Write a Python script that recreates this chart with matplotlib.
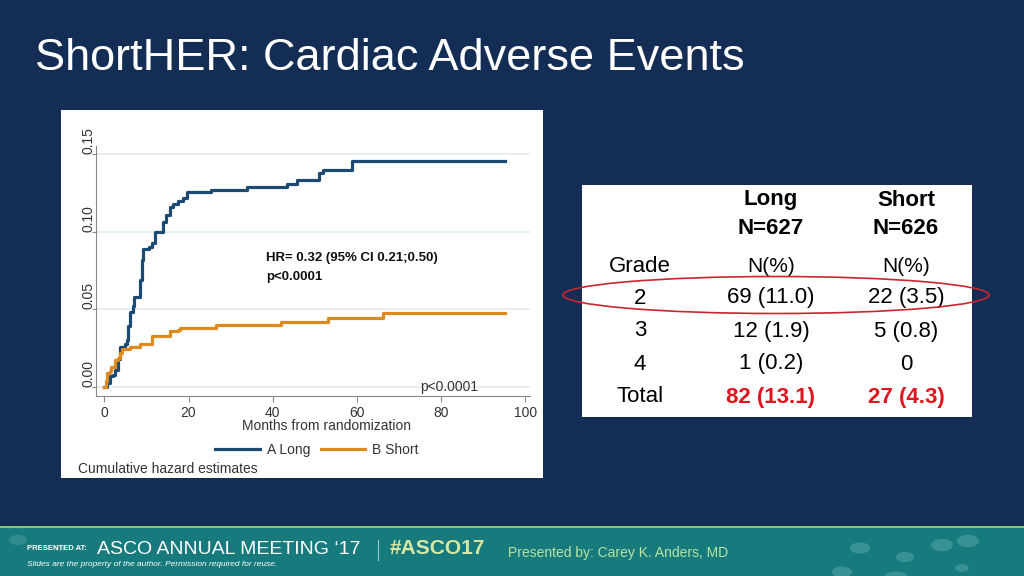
import matplotlib.pyplot as plt
from matplotlib.patches import Rectangle, Ellipse, Circle
from matplotlib.lines import Line2D

# cumulative hazard step points
long_months = [0, 0.55, 1.3, 2.1, 2.5, 3.3, 3.7, 4.9, 5.3, 5.7, 6.1, 6.7, 7.1, 8.5, 8.9, 9.3,
               10.5, 11.3, 12.0, 13.9, 14.7, 15.6, 16.4, 17.6, 18.8, 19.7, 25.3, 34.0, 43.5,
               45.7, 51.1, 51.9, 58.8, 95.2]
long_hazard = [0, 0.0026, 0.007, 0.008, 0.011, 0.018, 0.026, 0.028, 0.030, 0.039, 0.048, 0.052,
               0.058, 0.069, 0.082, 0.089, 0.090, 0.0926, 0.100, 0.1065, 0.111, 0.116, 0.118,
               0.120, 0.122, 0.1256, 0.127, 0.129, 0.131, 0.133, 0.1375, 0.1397, 0.1455, 0.1455]
short_months = [0, 0.3, 0.7, 1.3, 1.7, 2.5, 3.3, 3.7, 4.1, 6.1, 8.5, 11.3, 15.6, 17.6, 18.0,
                26.6, 41.9, 53.1, 66.2, 95.2]
short_hazard = [0, 0.0036, 0.009, 0.010, 0.013, 0.0176, 0.0186, 0.022, 0.0244, 0.026, 0.028,
                0.033, 0.0358, 0.037, 0.038, 0.040, 0.042, 0.0443, 0.0476, 0.0476]

x_ticks = [0, 20, 40, 60, 80, 100]
y_ticks = [0.00, 0.05, 0.10, 0.15]

# table
table_rows = ["2", "3", "4"]
long_vals = ["69 (11.0)", "12 (1.9)", "1 (0.2)"]
short_vals = ["22 (3.5)", "5 (0.8)", "0"]
total_vals = ["82 (13.1)", "27 (4.3)"]

NAVY = "#142d55"
BLUE = "#1c4a72"
ORANGE = "#dd8a1e"
W, H = 1024, 576


def px(x, y):
    return x / W, 1 - y / H


plt.rcParams['font.family'] = ['Liberation Sans', 'DejaVu Sans']
fig = plt.figure(figsize=(10.24, 5.76), dpi=100, facecolor=NAVY)

fig.text(*px(35, 59), "ShortHER: Cardiac Adverse Events", color="white", fontsize=32.5,
         va="center", ha="left")

# white panel behind the plot
fig.patches.append(Rectangle(px(61, 478), 482 / W, 368 / H, transform=fig.transFigure,
                             facecolor="white", edgecolor="none", zorder=-1))

ax = fig.add_axes([96 / W, 1 - 395.7 / H, 434 / W, 250.2 / H])
ax.set_facecolor("white")
ax.step(long_months, long_hazard, where="post", color=BLUE, lw=2.3, label="A Long")
ax.step(short_months, short_hazard, where="post", color=ORANGE, lw=2.3, label="B Short")
ax.set_xlim(-1.97, 101.1)
ax.set_ylim(-0.0056, 0.1555)
ax.set_xticks(x_ticks)
ax.set_yticks(y_ticks)
ax.set_yticklabels(["%.2f" % v for v in y_ticks], rotation=90, va="bottom")
ax.grid(axis="y", color="#e3ebef", lw=1.2)
ax.set_axisbelow(True)
for s in ["top", "right"]:
    ax.spines[s].set_visible(False)
for s in ["left", "bottom"]:
    ax.spines[s].set_color("#888888")
ax.tick_params(colors="#888888", labelcolor="#333333", labelsize=10, length=4)
ax.tick_params(axis="y", length=3, pad=-2.3)

ax.text(75, 0.0003, "p<0.0001", fontsize=10, color="#333333", va="center")
fig.text(*px(266, 258), "HR= 0.32 (95% CI 0.21;0.50)", fontsize=9.5, fontweight="bold",
         color="#111111", va="center")
fig.text(*px(266, 277), "p<0.0001", fontsize=9.5, fontweight="bold", color="#111111",
         va="center")
fig.text(*px(326, 426), "Months from randomization", fontsize=10, color="#333333",
         ha="center", va="center")
ax.legend(loc="center", bbox_to_anchor=px(317, 450), bbox_transform=fig.transFigure, ncol=2,
          frameon=False, fontsize=10, handlelength=3.2, columnspacing=0.8, handletextpad=0.5,
          labelcolor="#333333")
fig.text(*px(78, 469), "Cumulative hazard estimates", fontsize=10, color="#333333",
         va="center")

# table panel
fig.patches.append(Rectangle(px(582, 417), 390 / W, 232 / H, transform=fig.transFigure,
                             facecolor="white", edgecolor="none", zorder=-1))
col_x = [640, 771, 906]
fs = 16
fig.text(*px(col_x[1], 200), "Long", fontsize=fs, fontweight="bold", ha="center", va="center")
fig.text(*px(col_x[2], 200), "Short", fontsize=fs, fontweight="bold", ha="center", va="center")
fig.text(*px(col_x[1], 229), "N=627", fontsize=fs, fontweight="bold", ha="center", va="center")
fig.text(*px(col_x[2], 229), "N=626", fontsize=fs, fontweight="bold", ha="center", va="center")
fig.text(*px(col_x[0], 266), "Grade", fontsize=fs, ha="center", va="center")
fig.text(*px(col_x[1], 266), "N(%)", fontsize=fs - 1, ha="center", va="center")
fig.text(*px(col_x[2], 266), "N(%)", fontsize=fs - 1, ha="center", va="center")
for i, (g, lv, sv) in enumerate(zip(table_rows, long_vals, short_vals)):
    y = 298 + i * 33
    fig.text(*px(col_x[0], y), g, fontsize=fs, ha="center", va="center")
    fig.text(*px(col_x[1], y), lv, fontsize=fs, ha="center", va="center")
    fig.text(*px(col_x[2], y), sv, fontsize=fs, ha="center", va="center")
fig.text(*px(col_x[0], 397), "Total", fontsize=fs, ha="center", va="center")
fig.text(*px(col_x[1], 397), total_vals[0], fontsize=fs, fontweight="bold", color="#e0141e",
         ha="center", va="center")
fig.text(*px(col_x[2], 397), total_vals[1], fontsize=fs, fontweight="bold", color="#e0141e",
         ha="center", va="center")

# red ellipse around grade 2
fig.patches.append(Ellipse(px(776, 295), 426 / W, 37 / H, transform=fig.transFigure,
                           facecolor="none", edgecolor="#c8282d", lw=1.2, zorder=5))

# footer band
fig.patches.append(Rectangle((0, 0), 1, 49 / H, transform=fig.transFigure,
                             facecolor="#177a7d", edgecolor="none", zorder=-1))
fig.lines.append(Line2D([0, 1], [1 - 527 / H] * 2, transform=fig.transFigure,
                        color="#86c96c", lw=1.5))
for cx, cy, r in [(860, 548, 10), (905, 557, 9), (942, 545, 11), (968, 541, 11),
                  (842, 572, 10), (896, 578, 12), (962, 568, 7)]:
    fig.patches.append(Circle(px(cx, cy), r / W, transform=fig.transFigure,
                              facecolor="#5aa8a8", edgecolor="none", alpha=0.5, zorder=1))
for cx, cy, r in [(18, 540, 9), (60, 548, 6)]:
    fig.patches.append(Circle(px(cx, cy), r / W, transform=fig.transFigure,
                              facecolor="#4e9fa0", edgecolor="none", alpha=0.5, zorder=1))

fig.text(*px(27, 549), "PRESENTED AT:", fontsize=5.5, fontweight="bold", color="white",
         va="center")
fig.text(*px(97, 549), "ASCO ANNUAL MEETING \u201817", fontsize=14,
         family=['Liberation Sans Narrow', 'Liberation Sans', 'DejaVu Sans'],
         color="white", va="center")
fig.lines.append(Line2D([378 / W] * 2, [1 - 540 / H, 1 - 560 / H], transform=fig.transFigure,
                        color="#9cc8c4", lw=0.8))
fig.text(*px(390, 549), "#ASCO17", fontsize=15, fontweight="bold",
         family=['Liberation Sans Narrow', 'Liberation Sans', 'DejaVu Sans'],
         color="#d6e8a4", va="center")
fig.text(*px(508, 553), "Presented by: Carey K. Anders, MD", fontsize=10, color="#b9e4a2",
         va="center")
fig.text(*px(27, 565), "Slides are the property of the author. Permission required for reuse.",
         fontsize=6, style="italic", color="white", va="center")

fig.savefig("out.png", dpi=100, facecolor=NAVY)
